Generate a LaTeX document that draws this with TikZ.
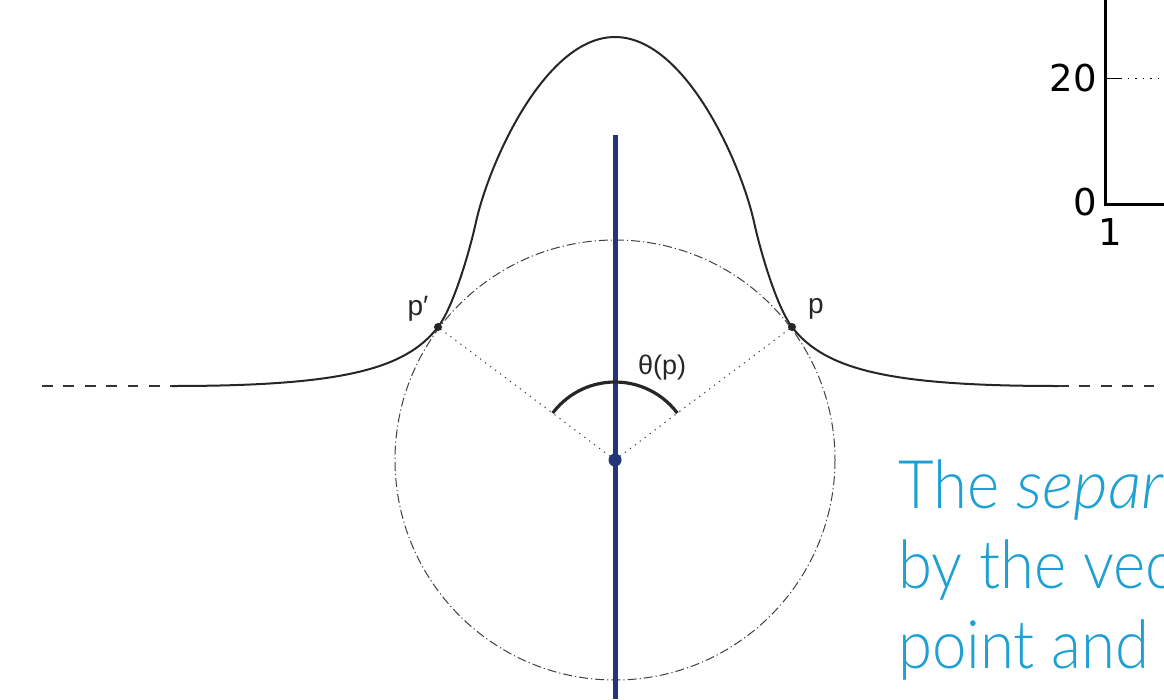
\documentclass[tikz,border=0pt]{standalone}
\usepackage{fontspec}
\setmainfont{Liberation Sans}
\newfontfamily\lightfont{Lato Light}[ItalicFont={Lato Light Italic}, UprightFeatures={FakeStretch=0.92}, ItalicFeatures={FakeStretch=1.0}]
\newfontfamily\dejavu{DejaVu Sans}
\definecolor{navy}{HTML}{22377A}
\definecolor{textblue}{HTML}{1EA0D3}
\begin{document}
\begin{tikzpicture}[x=1pt,y=-1pt,
  curve/.style={line width=2pt, color=black!85},
  ext/.style={line width=2.4pt, color=black!80, dash pattern=on 10.7pt off 10.7pt},
  circ/.style={line width=1pt, color=black!75, dash pattern=on 9pt off 3pt on 1.2pt off 3pt},
  radline/.style={line width=1pt, color=black!80, dash pattern=on 1.2pt off 5pt},
  axisline/.style={line width=3pt, black},
  lbl/.style={font=\fontsize{28}{32}\selectfont, text=black!85, inner sep=0pt},
  bluetext/.style={font=\lightfont\fontsize{67}{80}\selectfont, text=textblue, anchor=base west, inner sep=0pt},
  ticklbl/.style={font=\dejavu\fontsize{37}{40}\selectfont, inner sep=0pt},
  pdot/.style={circle, fill=black!85, inner sep=0pt, minimum size=8pt},
]
\useasboundingbox (0,0) rectangle (1164,699);
\clip (0,0) rectangle (1164,699);

\coordinate (c) at (615,460);
\coordinate (L0) at (42,386);
\coordinate (L1) at (172,386);
\coordinate (pl) at (438,327);
\coordinate (Il) at (476,222);
\coordinate (top) at (615,37);
\coordinate (Ir) at (754,222);
\coordinate (pr) at (792,327);
\coordinate (R1) at (1058,386);
\coordinate (R0) at (1164,386);
\coordinate (B0) at (615,135);
\coordinate (B1) at (615,699);

\draw[circ] (c) circle[radius=220];
\draw[radline] (c) -- (pl);
\draw[radline] (c) -- (pr);
\draw[ext] (L0) -- (L1);
\draw[ext] (R1) -- (R0);
\draw[curve] (L1) .. controls (340,386) and (405,370) .. (pl)
  .. controls (452,309) and (468,258) .. (Il)
  .. controls (489,163) and (545,37) .. (top)
  .. controls (685,37) and (741,163) .. (Ir)
  .. controls (762,258) and (778,309) .. (pr)
  .. controls (825,370) and (890,386) .. (R1);

\draw[navy, line width=5pt] (B0) -- (B1);
\draw[line width=3.2pt, black!85] ([shift={(-37:78)}]c) arc[start angle=-37, end angle=-143, radius=78];

\node[circle, fill=navy, minimum size=13pt, inner sep=0pt] (cd) at (c) {};
\node[pdot] (pld) at (pl) {};
\node[pdot] (prd) at (pr) {};
\node[lbl] (plbl) at (418,309) {p′};
\node[lbl] (prlbl) at (816,309) {p};
\node[lbl, font=\fontsize{27}{30}\selectfont] (theta) at (662,368) {θ(p)};

% axis fragment
\coordinate (A0) at (1105,0);
\coordinate (A1) at (1105,204);
\coordinate (A2) at (1164,204);
\coordinate (T0) at (1105,78);
\coordinate (T1) at (1120,78);
\coordinate (T2) at (1164,78);
\draw[axisline] (A0) -- (A1) -- (A2);
\draw[line width=1pt] (T0) -- (T1);
\draw[line width=1pt, dash pattern=on 1.5pt off 6pt] (T1) -- (T2);
\node[ticklbl, anchor=east] (t20) at (1097,78) {20};
\node[ticklbl] (t0) at (1085,202) {0};
\node[ticklbl] (t1) at (1110,232) {1};

\node[bluetext] (bt1) at (898,508) {The \textit{separ}};
\node[bluetext] (bt2) at (898,588) {by the vec};
\node[bluetext] (bt3) at (898,668) {point and};
\end{tikzpicture}
\end{document}
